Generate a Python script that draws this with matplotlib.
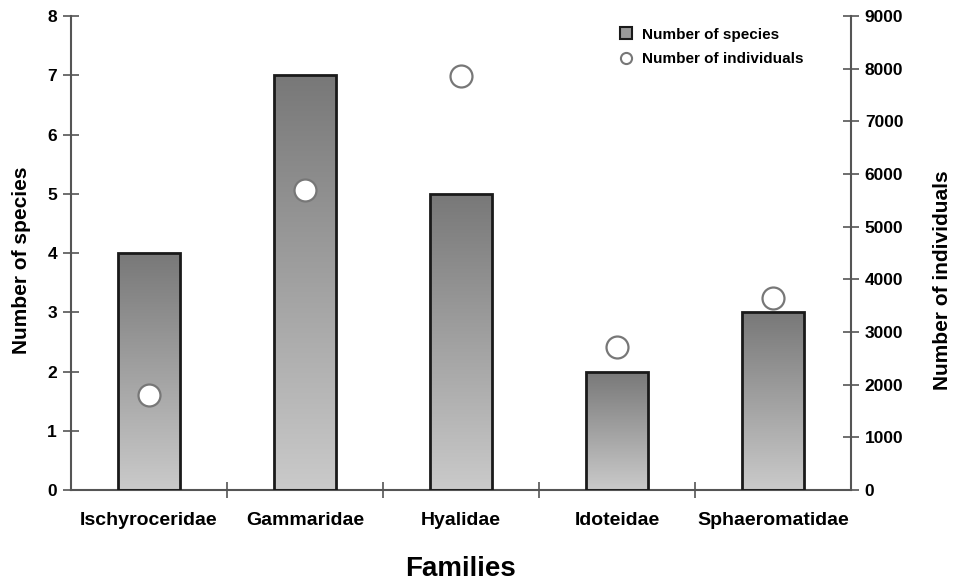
import matplotlib
matplotlib.use("Agg")
import matplotlib.pyplot as plt
import numpy as np
from matplotlib.lines import Line2D
from matplotlib.patches import Patch

families = ["Ischyroceridae", "Gammaridae", "Hyalidae", "Idoteidae", "Sphaeromatidae"]
n_species = [4, 7, 5, 2, 3]
n_individuals = [1800, 5700, 7870, 2720, 3650]
species_ticks = [0, 1, 2, 3, 4, 5, 6, 7, 8]
individual_ticks = [0, 1000, 2000, 3000, 4000, 5000, 6000, 7000, 8000, 9000]

plt.rcParams['font.family'] = ['Liberation Sans', 'DejaVu Sans']

fig = plt.figure(figsize=(9.57, 5.82), dpi=100)
ax = fig.add_axes([0.0742, 0.158, 0.815, 0.8145])
x = np.arange(len(families))

bars = ax.bar(x, n_species, width=0.4, color='none', edgecolor='#1a1a1a', linewidth=2, zorder=3)
grad = np.linspace(0, 1, 256).reshape(-1, 1)
cmap = matplotlib.colors.LinearSegmentedColormap.from_list('g', ['#cacaca', '#787878'])
for b in bars:
    bx, by, bw, bh = b.get_x(), b.get_y(), b.get_width(), b.get_height()
    im = ax.imshow(grad, extent=[bx, bx + bw, by, by + bh], origin='lower', cmap=cmap,
                   aspect='auto', zorder=2)
    im.set_clip_path(b)

ax.set_xlim(-0.5, len(families) - 0.5)
ax.set_ylim(0, 8)
ax.set_yticks(species_ticks)
ax.set_xticks(x)
ax.set_xticklabels(families, fontsize=14, fontweight='bold')
ax.set_xticks(np.arange(0.5, len(families) - 0.5, 1), minor=True)
ax.tick_params(axis='x', which='major', length=0, pad=16)
ax.tick_params(axis='x', which='minor', length=12, direction='inout', color='#555555', width=1.2)
ax.tick_params(axis='y', length=12, direction='inout', color='#555555', width=1.2, pad=4)
for lab in ax.get_yticklabels():
    lab.set_fontsize(12.5)
    lab.set_fontweight('bold')
for s in ['top', 'right']:
    ax.spines[s].set_visible(False)
for s in ['left', 'bottom']:
    ax.spines[s].set_color('#555555')
    ax.spines[s].set_linewidth(1.5)
ax.set_ylabel('Number of species', fontsize=15, fontweight='bold', labelpad=12)
ax.yaxis.label.set_y(0.485)
ax.set_xlabel('Families', fontsize=20, fontweight='bold', labelpad=19)

ax2 = ax.twinx()
ax2.set_ylim(0, 9000)
ax2.set_yticks(individual_ticks)
ax2.scatter(x, n_individuals, s=250, facecolor='white', edgecolor='#777777', linewidth=1.6, zorder=5)
ax2.tick_params(axis='y', length=12, direction='inout', color='#555555', width=1.2, pad=4)
for lab in ax2.get_yticklabels():
    lab.set_fontsize(12.5)
    lab.set_fontweight('bold')
for s in ['top', 'left', 'bottom']:
    ax2.spines[s].set_visible(False)
ax2.spines['right'].set_color('#555555')
ax2.spines['right'].set_linewidth(1.5)
ax2.set_ylabel('Number of individuals', fontsize=15, fontweight='bold', labelpad=21)
ax2.yaxis.label.set_y(0.443)

handles = [Patch(facecolor='#999999', edgecolor='#1a1a1a', linewidth=1.5, label='Number of species'),
           Line2D([], [], marker='o', linestyle='none', markerfacecolor='white',
                  markeredgecolor='#777777', markeredgewidth=1.5, markersize=8, label='Number of individuals')]
leg = ax2.legend(handles=handles, loc='upper left', bbox_to_anchor=(0.648, 0.953),
                 bbox_transform=fig.transFigure, frameon=False, borderpad=0, borderaxespad=0,
                 prop={'size': 11, 'weight': 'bold'}, handlelength=0.8, handleheight=0.8,
                 handletextpad=0.6, labelspacing=0.7)

fig.savefig('out.png', dpi=100)
